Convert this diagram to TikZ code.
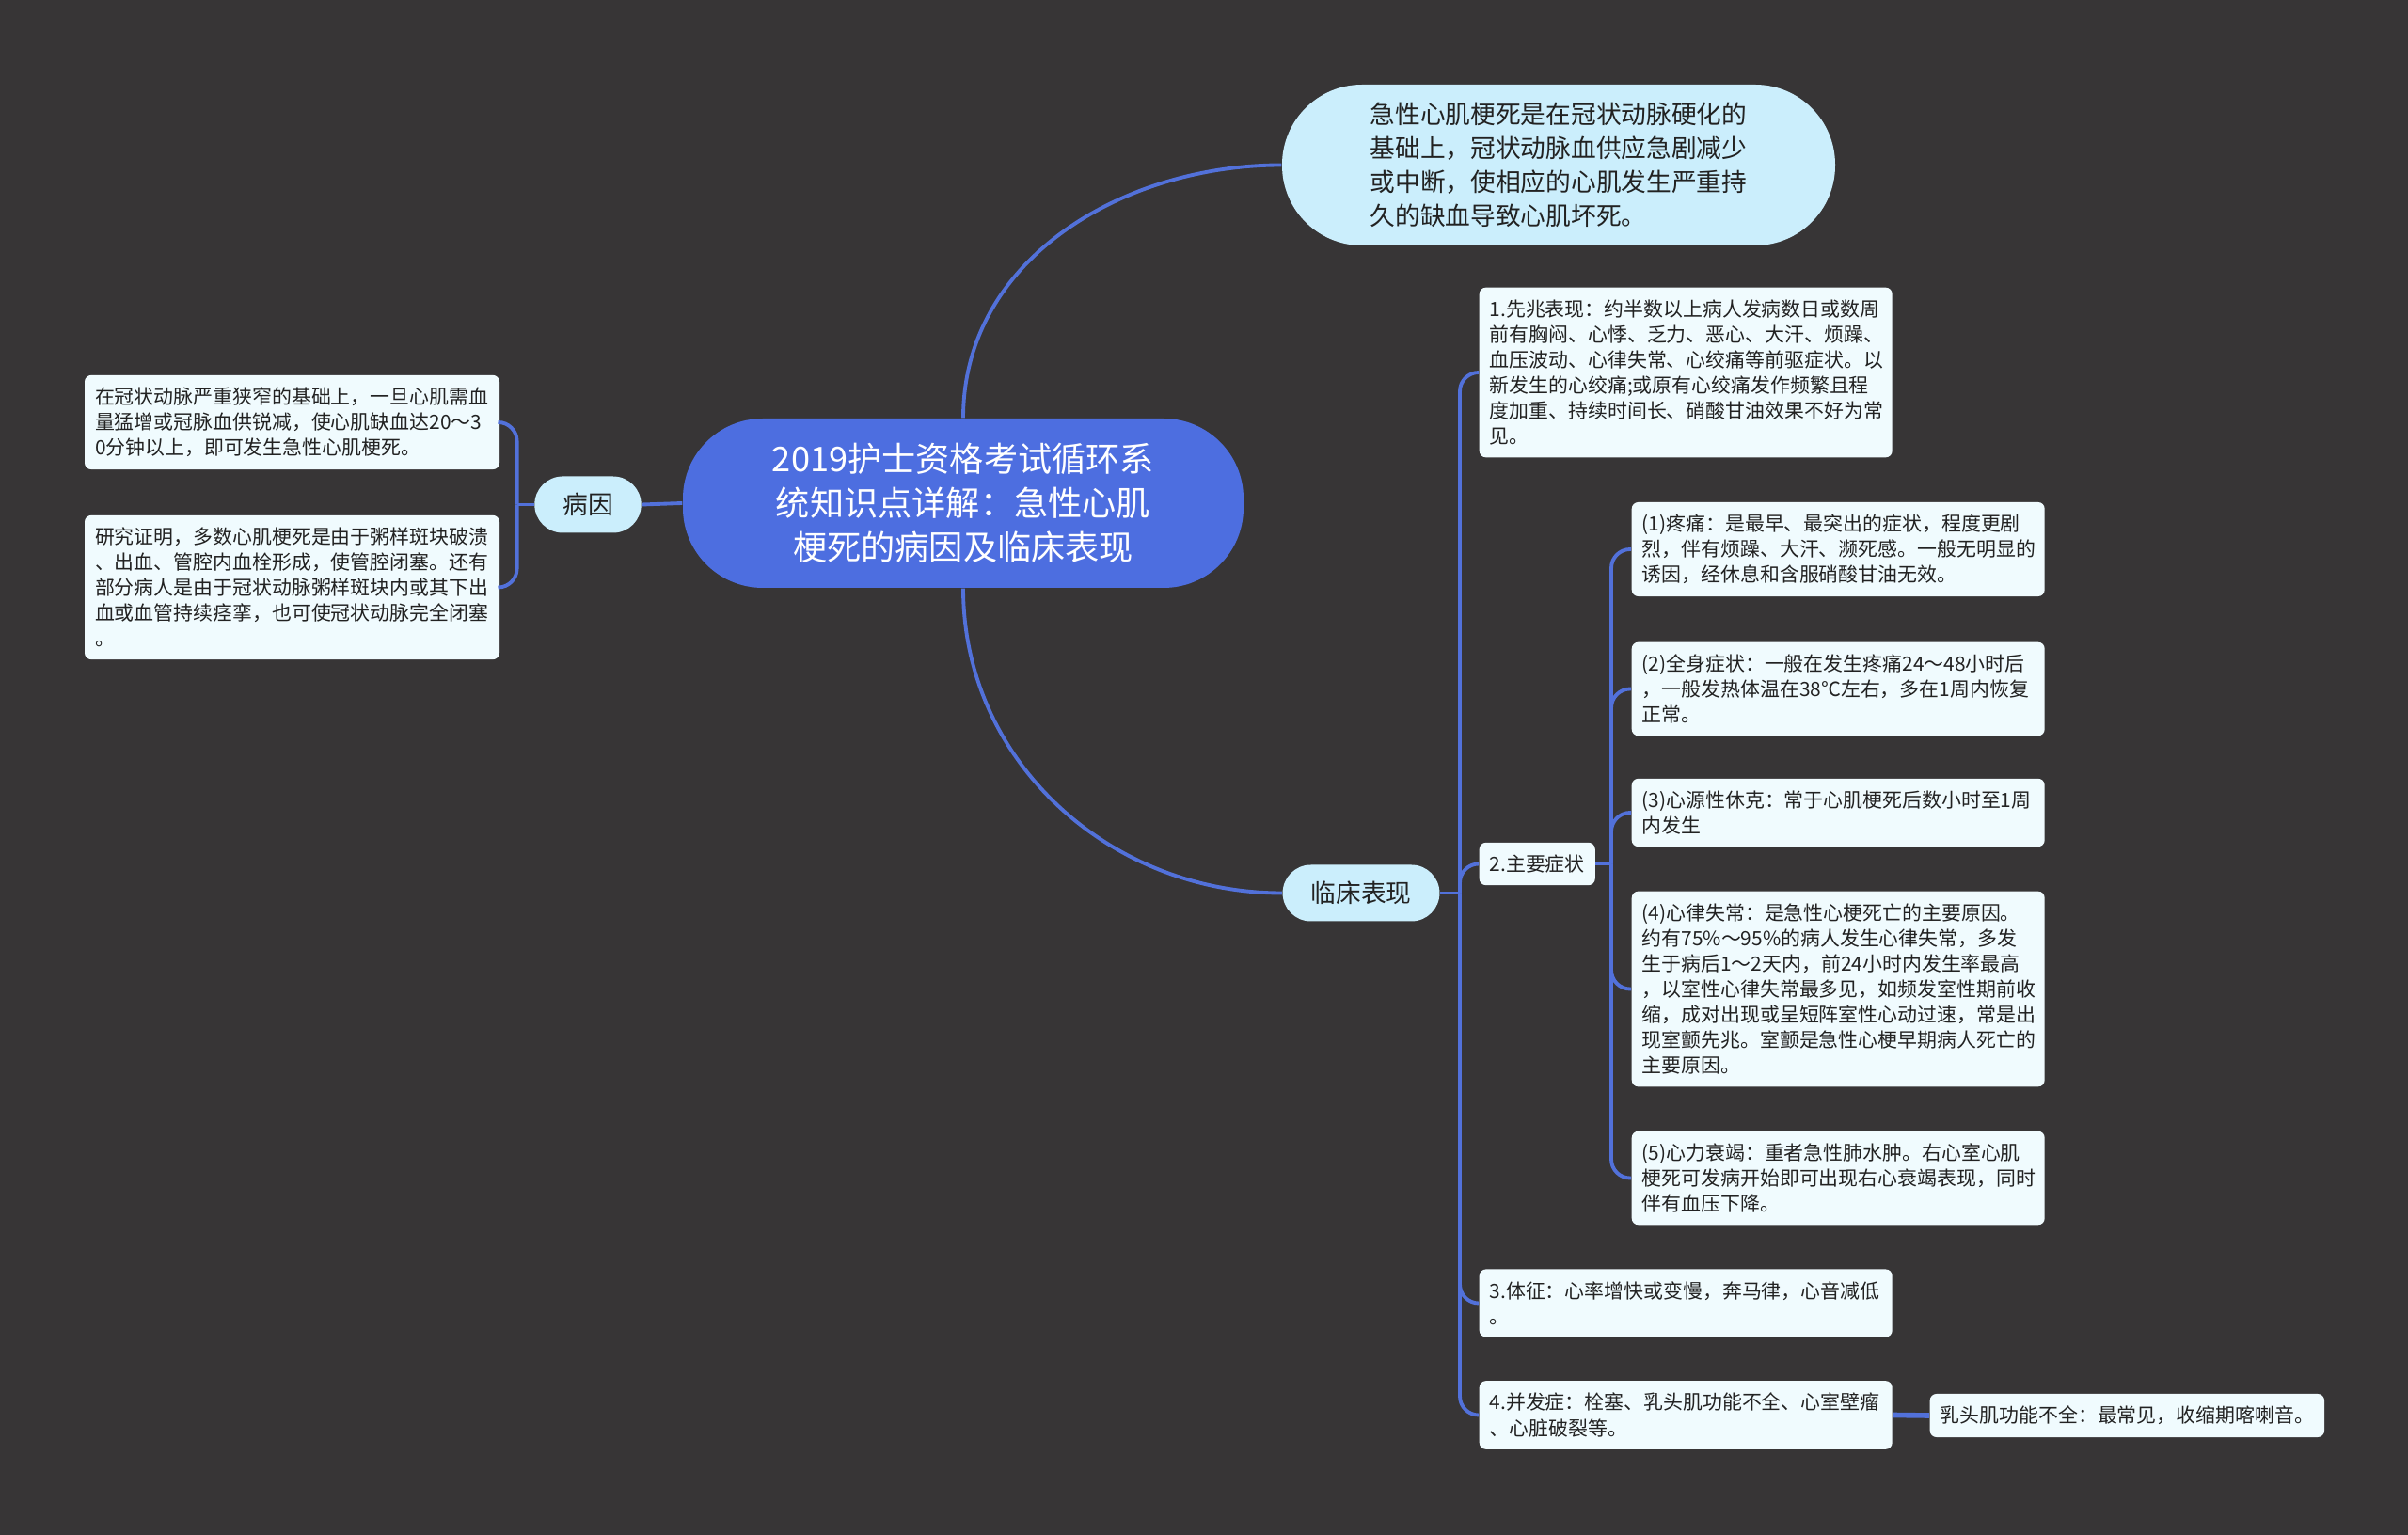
\documentclass[tikz,border=0pt]{standalone}
\usepackage{fontspec}
\setmainfont{Noto Sans CJK SC}
\usepackage{tikz}
\usetikzlibrary{calc}
\definecolor{bgdark}{HTML}{373536}
\definecolor{rootblue}{HTML}{4D6EE0}
\definecolor{lightblue}{HTML}{CBEEFC}
\definecolor{notefill}{HTML}{F0FBFE}
\definecolor{linkblue}{HTML}{5271DA}
\definecolor{inktext}{HTML}{222222}
\tikzset{
  rootnode/.style={fill=rootblue,text=white,rounded corners=8.5mm,align=center,
    minimum width=59.6mm,minimum height=18mm,font=\fontsize{10.3}{13.4}\selectfont},
  branch/.style={fill=lightblue,text=inktext,rounded corners=3mm,minimum height=6mm,
    inner xsep=3mm,font=\fontsize{7.6}{10.2}\selectfont},
  note/.style={fill=notefill,text=inktext,rounded corners=0.7mm,align=left,
    inner xsep=1.1mm,inner ysep=1.3mm,font=\fontsize{5.95}{7.7}\selectfont},
  link/.style={draw=linkblue,line width=1.1pt,rounded corners=2mm}
}

\begin{document}
\begin{tikzpicture}
  % Canvas
  \path[use as bounding box,fill=bgdark] (0,0) rectangle (25.6,-16.32);
  % Central topic and first level
  \node[rootnode] (root) at (10.24,-5.35)
    {2019护士资格考试循环系\\统知识点详解：急性心肌\\梗死的病因及临床表现};
  \node[branch,align=left,minimum width=58.8mm,minimum height=17.1mm,rounded corners=8.5mm]
    (defn) at (16.57,-1.755)
    {急性心肌梗死是在冠状动脉硬化的\\基础上，冠状动脉血供应急剧减少\\或中断，使相应的心肌发生严重持\\久的缺血导致心肌坏死。};
  \node[branch] (cause) at (6.25,-5.365) {病因};
  \node[branch] (clinic) at (14.47,-9.495) {临床表现};
  % Causes
  \node[note,text width=41.9mm] (causeA) at (3.105,-4.49)
    {在冠状动脉严重狭窄的基础上，一旦心肌需血\\量猛增或冠脉血供锐减，使心肌缺血达20～3\\0分钟以上，即可发生急性心肌梗死。};
  \node[note,text width=41.9mm] (causeB) at (3.105,-6.245)
    {研究证明，多数心肌梗死是由于粥样斑块破溃\\、出血、管腔内血栓形成，使管腔闭塞。还有\\部分病人是由于冠状动脉粥样斑块内或其下出\\血或血管持续痉挛，也可使冠状动脉完全闭塞\\。};
  % Clinical signs
  \node[note,text width=41.7mm,anchor=west] (signA) at (15.72,-3.96)
    {1.先兆表现：约半数以上病人发病数日或数周\\前有胸闷、心悸、乏力、恶心、大汗、烦躁、\\血压波动、心律失常、心绞痛等前驱症状。以\\新发生的心绞痛;或原有心绞痛发作频繁且程\\度加重、持续时间长、硝酸甘油效果不好为常\\见。};
  \node[note,anchor=west] (signB) at (15.72,-9.185) {2.主要症状};
  \node[note,text width=41.7mm,anchor=west] (signC) at (15.72,-13.855)
    {3.体征：心率增快或变慢，奔马律，心音减低\\。};
  \node[note,text width=41.7mm,anchor=west] (signD) at (15.72,-15.045)
    {4.并发症：栓塞、乳头肌功能不全、心室壁瘤\\、心脏破裂等。};
  \node[note,anchor=west] (papil) at (20.51,-15.05) {乳头肌功能不全：最常见，收缩期喀喇音。};
  % Main symptoms
  \node[note,text width=41.7mm,anchor=west] (sympA) at (17.34,-5.84)
    {(1)疼痛：是最早、最突出的症状，程度更剧\\烈，伴有烦躁、大汗、濒死感。一般无明显的\\诱因，经休息和含服硝酸甘油无效。};
  \node[note,text width=41.7mm,anchor=west] (sympB) at (17.34,-7.325)
    {(2)全身症状：一般在发生疼痛24～48小时后\\，一般发热体温在38℃左右，多在1周内恢复\\正常。};
  \node[note,text width=41.7mm,anchor=west] (sympC) at (17.34,-8.64)
    {(3)心源性休克：常于心肌梗死后数小时至1周\\内发生};
  \node[note,text width=41.7mm,anchor=west] (sympD) at (17.34,-10.515)
    {(4)心律失常：是急性心梗死亡的主要原因。\\约有75\%～95\%的病人发生心律失常，多发\\生于病后1～2天内，前24小时内发生率最高\\，以室性心律失常最多见，如频发室性期前收\\缩，成对出现或呈短阵室性心动过速，常是出\\现室颤先兆。室颤是急性心梗早期病人死亡的\\主要原因。};
  \node[note,text width=41.7mm,anchor=west] (sympE) at (17.34,-12.525)
    {(5)心力衰竭：重者急性肺水肿。右心室心肌\\梗死可发病开始即可出现右心衰竭表现，同时\\伴有血压下降。};
  % Connectors
  \draw[link] (root.north) to[out=90,in=180] (defn.west);
  \draw[link] (root.south) to[out=-90,in=180] (clinic.west);
  \draw[link] (root.west) -- (cause.east);
  \coordinate (cj) at ($(cause.west)+(-0.18,0)$);
  \draw[link] (cause.west) -- (cj);
  \foreach \n in {causeA,causeB} \draw[link] (cj) |- (\n.east);
  \coordinate (kj) at ($(signA.west |- clinic.east)+(-0.2,0)$);
  \draw[link] (clinic.east) -- (kj);
  \foreach \n in {signA,signB,signC,signD} \draw[link] (kj) |- (\n.west);
  \coordinate (sj) at ($(sympA.west |- signB.east)+(-0.21,0)$);
  \draw[link] (signB.east) -- (sj);
  \foreach \n in {sympA,sympB,sympC,sympD,sympE} \draw[link] (sj) |- (\n.west);
  \draw[link,line width=1.6pt] (signD.east) -- (papil.west);
\end{tikzpicture}
\end{document}
